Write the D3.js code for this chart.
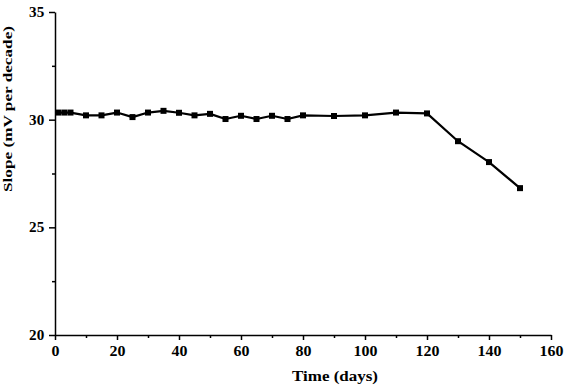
<!DOCTYPE html>
<html>
<head>
<meta charset="utf-8">
<script src="https://cdn.jsdelivr.net/npm/d3@7"></script>
<style>
  body { margin: 0; background: #fff; }
  text { font-family: "Liberation Serif", "Times New Roman", serif; font-weight: bold; }
</style>
</head>
<body>
<div id="vis"></div>
<script>
// readings from the picture
const days = [1, 3, 5, 10, 15, 20, 25, 30, 35, 40, 45, 50, 55, 60, 65, 70, 75, 80, 90, 100, 110, 120, 130, 140, 150];
const slope = [30.33, 30.33, 30.33, 30.2, 30.2, 30.33, 30.12, 30.33, 30.41, 30.32, 30.2, 30.27, 30.03, 30.18, 30.03, 30.18, 30.03, 30.2, 30.17, 30.2, 30.33, 30.29, 29.0, 28.03, 26.82];
const xTicks = [0, 20, 40, 60, 80, 100, 120, 140, 160];
const xMinor = [10, 30, 50, 70, 90, 110, 130, 150];
const yTicks = [20, 25, 30, 35];
const yMinor = [22.5, 27.5, 32.5];

const width = 564;
const height = 388;
const margin = {top: 12, right: 13, bottom: 53, left: 55};

const svg = d3.select("#vis").append("svg")
    .attr("width", width)
    .attr("height", height);

const x = d3.scaleLinear()
    .domain([0, 160])
    .range([margin.left, width - margin.right]);

const y = d3.scaleLinear()
    .domain([20, 35])
    .range([height - margin.bottom, margin.top]);

// minor ticks first, so major axis draws on top
svg.append("g")
    .attr("transform", `translate(0,${height - margin.bottom})`)
    .call(d3.axisBottom(x).tickValues(xMinor).tickSize(3).tickFormat(""))
    .call(g => g.select(".domain").remove())
    .call(g => g.selectAll("line").attr("stroke-width", 1.5));

svg.append("g")
    .attr("transform", `translate(${margin.left},0)`)
    .call(d3.axisLeft(y).tickValues(yMinor).tickSize(3).tickFormat(""))
    .call(g => g.select(".domain").remove())
    .call(g => g.selectAll("line").attr("stroke-width", 1.5));

const xAxis = svg.append("g")
    .attr("transform", `translate(0,${height - margin.bottom})`)
    .call(d3.axisBottom(x).tickValues(xTicks).tickSize(5).tickSizeOuter(0).tickPadding(6))
xAxis.select(".domain").attr("stroke-width", 1.5);
xAxis.selectAll("line").attr("stroke-width", 1.5);
xAxis.selectAll("text")
    .attr("font-size", "14px")
    .attr("transform", "scale(1.14,1)")
    .attr("fill", "#000");

const yAxis = svg.append("g")
    .attr("transform", `translate(${margin.left},0)`)
    .call(d3.axisLeft(y).tickValues(yTicks).tickSize(6).tickSizeOuter(0).tickPadding(4))
yAxis.select(".domain").attr("stroke-width", 1.5);
yAxis.selectAll("line").attr("stroke-width", 1.5);
yAxis.selectAll("text")
    .attr("font-size", "14px")
    .attr("transform", "scale(1.08,1)")
    .attr("fill", "#000");

// axis titles
svg.append("text")
    .attr("x", 335)
    .attr("y", 381)
    .attr("text-anchor", "middle")
    .attr("font-size", "15px")
    .attr("textLength", 86)
    .attr("lengthAdjust", "spacingAndGlyphs")
    .text("Time (days)");

svg.append("text")
    .attr("transform", "rotate(-90)")
    .attr("x", -109)
    .attr("y", 12)
    .attr("text-anchor", "middle")
    .attr("font-size", "13px")
    .attr("textLength", 166)
    .attr("lengthAdjust", "spacingAndGlyphs")
    .text("Slope (mV per decade)");

const data = days.map((d, i) => ({day: d, slope: slope[i]}));

const line = d3.line()
    .x(d => x(d.day))
    .y(d => y(d.slope));

svg.append("path")
    .datum(data)
    .attr("fill", "none")
    .attr("stroke", "#000")
    .attr("stroke-width", 2.2)
    .attr("stroke-linejoin", "round")
    .attr("d", line);

svg.selectAll(".pt")
    .data(data)
    .join("rect")
    .attr("class", "pt")
    .attr("x", d => x(d.day) - 3)
    .attr("y", d => y(d.slope) - 3)
    .attr("width", 6)
    .attr("height", 6)
    .attr("fill", "#000");
</script>
</body>
</html>
